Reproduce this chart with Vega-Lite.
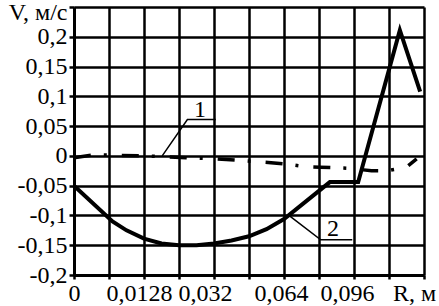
{
  "$schema": "https://vega.github.io/schema/vega-lite/v6.json",
  "width": 350,
  "height": 268,
  "autosize": {"type": "none"},
  "padding": {"left": 74, "top": 7, "right": 15, "bottom": 31},
  "background": "white",
  "config": {"view": {"stroke": null}, "font": "Liberation Serif"},
  "datasets": {
    "curve1": [
      {"idx": 0, "v": -0.003}, {"idx": 0.6, "v": 0.002}, {"idx": 1.2, "v": 0.001}, {"idx": 2, "v": 0.0},
      {"idx": 3.2, "v": -0.003}, {"idx": 4.1, "v": -0.005}, {"idx": 4.8, "v": -0.008}, {"idx": 5.55, "v": -0.011},
      {"idx": 6.1, "v": -0.014}, {"idx": 6.6, "v": -0.018}, {"idx": 7.03, "v": -0.019}, {"idx": 7.5, "v": -0.02},
      {"idx": 7.9, "v": -0.021}, {"idx": 8.5, "v": -0.025}, {"idx": 8.93, "v": -0.025}, {"idx": 9.5, "v": -0.019},
      {"idx": 9.79, "v": -0.005}
    ],
    "curve2": [
      {"idx": 0, "v": -0.05}, {"idx": 1.1, "v": -0.11}, {"idx": 1.5, "v": -0.125}, {"idx": 2, "v": -0.139},
      {"idx": 2.5, "v": -0.147}, {"idx": 3, "v": -0.15}, {"idx": 3.5, "v": -0.15}, {"idx": 4, "v": -0.147},
      {"idx": 4.5, "v": -0.142}, {"idx": 5, "v": -0.135}, {"idx": 5.5, "v": -0.123}, {"idx": 6, "v": -0.106},
      {"idx": 7.31, "v": -0.044}, {"idx": 8.12, "v": -0.044}, {"idx": 9.31, "v": 0.211}, {"idx": 9.89, "v": 0.108}
    ],
    "leaders": [
      {"g": "1", "idx": 2.52, "v": 0.0}, {"g": "1", "idx": 3.24, "v": 0.061}, {"g": "1", "idx": 4.05, "v": 0.061},
      {"g": "2", "idx": 6.14, "v": -0.1}, {"g": "2", "idx": 7.05, "v": -0.141}, {"g": "2", "idx": 7.95, "v": -0.141}
    ],
    "labels": [
      {"t": "1", "idx": 3.6, "v": 0.065},
      {"t": "2", "idx": 7.4, "v": -0.135}
    ]
  },
  "encoding": {
    "x": {
      "field": "idx", "type": "quantitative",
      "scale": {"domain": [0, 10], "nice": false, "zero": false},
      "axis": {
        "values": [0, 1, 2, 3, 4, 5, 6, 7, 8, 9, 10],
        "title": null,
        "grid": true, "gridColor": "black", "gridWidth": 2.5, "gridOpacity": 1,
        "domainColor": "black", "domainWidth": 3,
        "tickColor": "black", "tickWidth": 2.5, "tickSize": 4,
        "labelColor": "black", "labelFontSize": 24, "labelPadding": 2,
        "labelFlush": false, "labelOverlap": false,
        "labelOffset": {"condition": [
          {"test": "datum.value == 2", "value": -5},
          {"test": "datum.value == 4", "value": -9},
          {"test": "datum.value == 6", "value": -3},
          {"test": "datum.value == 8", "value": -7},
          {"test": "datum.value == 10", "value": -10}
        ], "value": 0},
        "labelExpr": "datum.value == 0 ? '0' : datum.value == 2 ? '0,0128' : datum.value == 4 ? '0,032' : datum.value == 6 ? '0,064' : datum.value == 8 ? '0,096' : datum.value == 10 ? 'R, м' : ''"
      }
    },
    "y": {
      "field": "v", "type": "quantitative",
      "scale": {"domain": [-0.2, 0.25], "nice": false, "zero": false},
      "axis": {
        "values": [-0.2, -0.15, -0.1, -0.05, 0, 0.05, 0.1, 0.15, 0.2, 0.25],
        "title": null,
        "grid": true, "gridColor": "black", "gridWidth": 2.5, "gridOpacity": 1,
        "domainColor": "black", "domainWidth": 3,
        "tickColor": "black", "tickWidth": 2.5, "tickSize": 5,
        "labelColor": "black", "labelFontSize": 24, "labelPadding": 2,
        "labelFlush": false, "labelOverlap": false,
        "labelOffset": {"condition": {"test": "datum.value == 0.25", "value": 5}, "value": 0},
        "labelExpr": "datum.value == 0.25 ? 'V, м/с' : (datum.value < 0 ? '-' : '') + replace(format(abs(datum.value), '.2~f'), '.', ',')"
      }
    }
  },
  "layer": [
    {
      "data": {"name": "curve1"},
      "mark": {"type": "line", "color": "black", "strokeWidth": 3.5, "strokeDash": [17, 13, 3, 15]}
    },
    {
      "data": {"name": "curve2"},
      "mark": {"type": "line", "color": "black", "strokeWidth": 4, "strokeJoin": "miter"}
    },
    {
      "data": {"name": "leaders"},
      "mark": {"type": "line", "color": "black", "strokeWidth": 1.5},
      "encoding": {"detail": {"field": "g", "type": "nominal"}}
    },
    {
      "data": {"name": "labels"},
      "mark": {"type": "text", "color": "black", "fontSize": 24, "align": "center", "baseline": "alphabetic"},
      "encoding": {"text": {"field": "t", "type": "nominal"}}
    }
  ]
}
